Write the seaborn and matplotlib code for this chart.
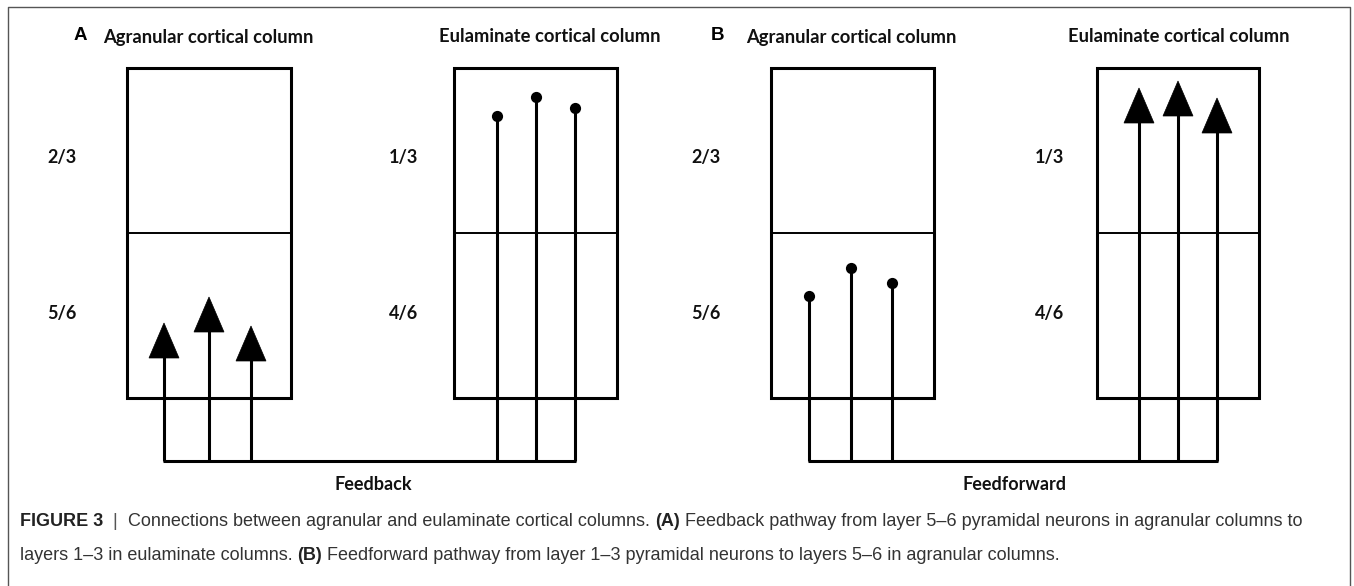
import matplotlib
matplotlib.use("Agg")
import matplotlib.pyplot as plt
import seaborn as sns
from matplotlib.patches import Polygon, Rectangle

# layout lives in pixel space of the 1354x586 picture
W, H = 1354, 586

# columns: left/right edge of each box (A agranular, A eulaminate, B agranular, B eulaminate)
box_left = [127, 454, 771, 1097]
box_right = [291, 617, 934, 1259]
box_top, box_mid, box_bottom = 68, 233, 398
bus_y = 461

# panel A: feedback arrows out of layer 5/6, dot terminals in layer 1/3
arrow_a_x = [164, 209, 251]
arrow_a_tip = [323, 297, 326]
dot_a_x = [497, 536, 575]
dot_a_y = [116, 97, 108]

# panel B: dot terminals in layer 5/6, feedforward arrows out of layer 1/3
dot_b_x = [809, 851, 892]
dot_b_y = [296, 268, 283]
arrow_b_x = [1139, 1178, 1217]
arrow_b_tip = [88, 81, 98]

head_len, head_half = 35, 15

panel_letters = ["A", "B"]
panel_letter_x = [80, 717]
headings = ["Agranular cortical column", "Eulaminate cortical column",
            "Agranular cortical column", "Eulaminate cortical column"]
heading_x = [208, 550, 851, 1179]
layer_labels = [["2/3", "5/6"], ["1/3", "4/6"], ["2/3", "5/6"], ["1/3", "4/6"]]
layer_label_x = [62, 404, 706, 1050]
layer_label_y = [157, 314]
pathway_names = ["Feedback", "Feedforward"]
pathway_x = [373, 1015]

caption_lines = [
    [("FIGURE 3", "bold", "#222222"), ("  |  ", "normal", "#555555"),
     ("Connections between agranular and eulaminate cortical columns. ", "normal", "#333333"),
     ("(A)", "bold", "#222222"),
     (" Feedback pathway from layer 5\u20136 pyramidal neurons in agranular columns to", "normal", "#333333")],
    [("layers 1\u20133 in eulaminate columns. ", "normal", "#333333"),
     ("(B)", "bold", "#222222"),
     (" Feedforward pathway from layer 1\u20133 pyramidal neurons to layers 5\u20136 in agranular columns.", "normal", "#333333")],
]
caption_y = [521, 555]

sns.set_theme(style="white")
plt.rcParams["font.family"] = ["Lato", "DejaVu Sans"]

fig = plt.figure(figsize=(W / 100, H / 100), dpi=100)
ax = fig.add_axes([0, 0, 1, 1])
ax.set_xlim(0, W)
ax.set_ylim(H, 0)
ax.axis("off")

lw = 2.2
# outer frame (open at the bottom)
ax.plot([8, 8, 1350, 1350], [H + 5, 7, 7, H + 5], color="#555555", lw=1.0)

# column boxes with layer divider
for l, r in zip(box_left, box_right):
    ax.add_patch(Rectangle((l, box_top), r - l, box_bottom - box_top,
                           fill=False, ec="black", lw=lw))
    ax.plot([l, r], [box_mid, box_mid], color="black", lw=1.4)


def draw_arrows(xs, tips):
    for x, t in zip(xs, tips):
        ax.plot([x, x], [bus_y, t + head_len - 2], color="black", lw=lw,
                solid_capstyle="butt")
        ax.add_patch(Polygon([[x - head_half, t + head_len], [x + head_half, t + head_len], [x, t]],
                             closed=True, fc="black", ec="black", lw=0.5))


def draw_dots(xs, ys):
    for x, y in zip(xs, ys):
        ax.plot([x, x], [bus_y, y], color="black", lw=lw, solid_capstyle="butt")
    sns.scatterplot(x=xs, y=ys, ax=ax, color="black", s=65, edgecolor="black",
                    linewidth=0, zorder=5, legend=False)


draw_arrows(arrow_a_x, arrow_a_tip)
draw_dots(dot_a_x, dot_a_y)
draw_dots(dot_b_x, dot_b_y)
draw_arrows(arrow_b_x, arrow_b_tip)

# horizontal buses joining the terminals of each panel
for xs in [arrow_a_x + dot_a_x, dot_b_x + arrow_b_x]:
    ax.plot([min(xs) - 1, max(xs) + 1], [bus_y, bus_y], color="black", lw=lw,
            solid_capstyle="butt")

# texts
for letter, x in zip(panel_letters, panel_letter_x):
    ax.text(x, 36, letter, family=["Liberation Sans", "DejaVu Sans"], weight="bold",
            fontsize=13.5, ha="center", va="center", color="black")
for txt, x in zip(headings, heading_x):
    ax.text(x, 37, txt, weight="bold", fontsize=13.2, ha="center", va="center",
            color="#111111")
for labels, x in zip(layer_labels, layer_label_x):
    for txt, y in zip(labels, layer_label_y):
        ax.text(x, y, txt, weight="bold", fontsize=13, ha="center", va="center",
                color="#111111")
for txt, x in zip(pathway_names, pathway_x):
    ax.text(x, 485, txt, weight="bold", fontsize=13, ha="center", va="center",
            color="#111111")

# caption with mixed weights, placed piece by piece
fig.canvas.draw()
renderer = fig.canvas.get_renderer()
inv = ax.transData.inverted()
for pieces, y in zip(caption_lines, caption_y):
    x = 20
    for txt, weight, color in pieces:
        t = ax.text(x, y, txt, family=["Liberation Sans", "DejaVu Sans"], weight=weight,
                    fontsize=13, ha="left", va="center", color=color)
        bb = t.get_window_extent(renderer)
        x = inv.transform((bb.x1, bb.y0))[0]

fig.savefig("out.png", dpi=100, facecolor="white")
